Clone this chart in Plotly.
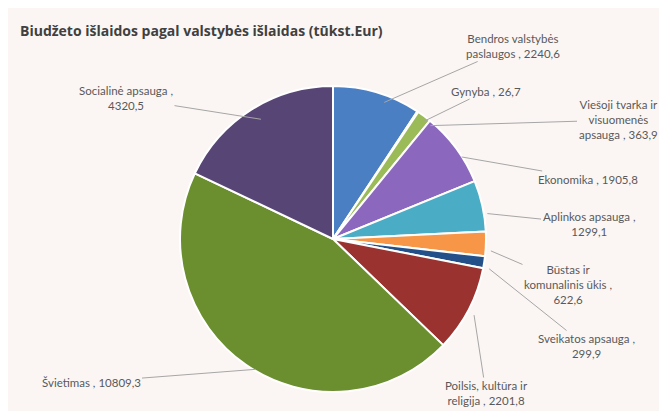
import math
import plotly.graph_objects as go

# duomenys (tūkst. Eur)
kategorijos = [
    "Bendros valstybės<br>paslaugos",
    "Gynyba",
    "Viešoji tvarka ir<br>visuomenės<br>apsauga",
    "Ekonomika",
    "Aplinkos apsauga",
    "Būstas ir<br>komunalinis ūkis",
    "Sveikatos apsauga",
    "Poilsis, kultūra ir<br>religija",
    "Švietimas",
    "Socialinė apsauga",
]
reiksmes = [2240.6, 26.7, 363.9, 1905.8, 1299.1, 622.6, 299.9, 2201.8, 10809.3, 4320.5]
reiksmiu_tekstas = ["2240,6", "26,7", "363,9", "1905,8", "1299,1", "622,6", "299,9", "2201,8", "10809,3", "4320,5"]
# ar reikšmė rašoma naujoje eilutėje
lauztas = [False, False, False, False, True, True, True, False, False, True]

spalvos = ["#4a7fc4", "#c0504d", "#9bbb59", "#8b68be", "#4bacc6",
           "#f79646", "#24508a", "#9a3330", "#6b8e2e", "#574675"]

W, H = 667, 411
cx, cy, r = 333, 238, 153
# plotly pie atsiduria ~8px dešiniau / ~7px žemiau nei domain centras
dx, dy = 8, 7

# etikečių centrai (px nuo viršutinio kairiojo kampo)
etik_poz = [(505, 38), (478, 83), (610, 112), (580, 171), (581, 216),
            (560, 276), (578, 338), (478, 385), (83, 374), (118, 90)]

fig = go.Figure(go.Pie(
    labels=[k.replace("<br>", " ") for k in kategorijos],
    values=reiksmes,
    sort=False,
    direction="clockwise",
    rotation=0,
    marker=dict(colors=spalvos, line=dict(color="white", width=2)),
    textinfo="none",
    hoverinfo="label+value",
    showlegend=False,
    domain=dict(x=[(cx - dx - r) / W, (cx - dx + r) / W],
                y=[(H - cy + dy - r) / H, (H - cy + dy + r) / H]),
))

suma = sum(reiksmes)
kaup = 0
for i, v in enumerate(reiksmes):
    vid = (kaup + v / 2) / suma
    kaup += v
    kampas = 2 * math.pi * vid
    tx = cx + r * 0.98 * math.sin(kampas)
    ty = cy - r * 0.98 * math.cos(kampas)
    lx, ly = etik_poz[i]
    sep = " ,<br>" if lauztas[i] else " , "
    fig.add_annotation(
        x=tx / W, y=1 - ty / H, xref="paper", yref="paper",
        ax=lx - tx, ay=ly - ty,
        text=kategorijos[i] + sep + reiksmiu_tekstas[i],
        showarrow=True, arrowhead=0, arrowwidth=1, arrowcolor="#a6a6a6",
        font=dict(family="Lato, 'Open Sans', sans-serif", size=11.5, color="#595959"),
        align="center",
    )

fig.add_annotation(
    x=10 / W, y=1 - 22 / H, xref="paper", yref="paper",
    xanchor="left", yanchor="middle", showarrow=False,
    text="<b>Biudžeto išlaidos pagal valstybės išlaidas (tūkst.Eur)</b>",
    font=dict(family="'Open Sans', sans-serif", size=14, color="#404040"),
)

fig.update_layout(
    width=W, height=H,
    margin=dict(l=0, r=0, t=0, b=0),
    paper_bgcolor="#fbf6f4",
    plot_bgcolor="#fbf6f4",
)

fig.write_html("out.html")
